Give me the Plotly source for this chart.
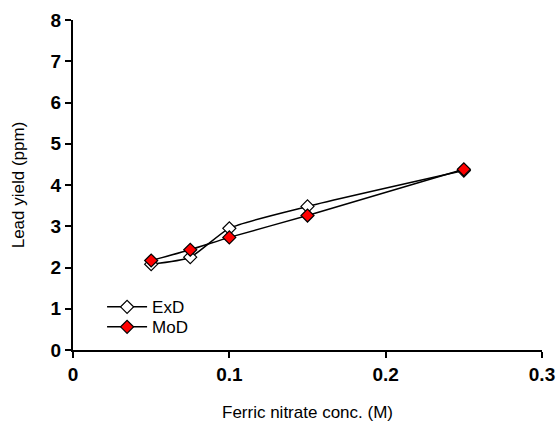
import plotly.graph_objects as go

conc = [0.05, 0.075, 0.1, 0.15, 0.25]
exd = [2.08, 2.25, 2.95, 3.48, 4.35]
mod = [2.17, 2.43, 2.73, 3.26, 4.38]
xticks = [0, 0.1, 0.2, 0.3]
xlabels = ["0", "0.1", "0.2", "0.3"]
yticks = [0, 1, 2, 3, 4, 5, 6, 7, 8]

FONT = "Liberation Sans, Arial, sans-serif"

fig = go.Figure()
fig.add_trace(go.Scatter(x=conc, y=exd, name="ExD", mode="lines+markers", legend="legend",
                         line=dict(color="black", width=1.5, shape="spline", smoothing=0.6),
                         marker=dict(symbol="diamond", size=10, color="white",
                                     line=dict(color="black", width=1.2))))
fig.add_trace(go.Scatter(x=conc, y=mod, name="MoD", mode="lines+markers", legend="legend2",
                         line=dict(color="black", width=1.5, shape="spline", smoothing=0.6),
                         marker=dict(symbol="diamond", size=10, color="red",
                                     line=dict(color="black", width=1.2))))

leg = dict(xanchor="left", yanchor="middle", bgcolor="rgba(0,0,0,0)",
           font=dict(size=17), itemwidth=40)
fig.update_layout(
    width=556, height=432,
    margin=dict(l=73, r=14, t=20, b=82, autoexpand=False),
    paper_bgcolor="white", plot_bgcolor="white",
    font=dict(family=FONT, color="black"),
    showlegend=True,
    legend=dict(x=0.062, y=(349.7 - 307) / 329.7, **leg),
    legend2=dict(x=0.062, y=(349.7 - 327) / 329.7, **leg),
)
fig.update_xaxes(range=[0, 0.3], tickvals=xticks, ticktext=["<b>%s</b>" % t for t in xlabels],
                 automargin=False,
                 showline=True, linecolor="black", linewidth=2, ticks="outside",
                 ticklen=6, tickwidth=2, tickcolor="black", showgrid=False, zeroline=False,
                 tickfont=dict(size=19, family=FONT),
                 title=dict(text="Ferric nitrate conc. (M)", font=dict(size=17), standoff=22))
fig.update_yaxes(range=[0, 8], tickvals=yticks, ticktext=["<b>%d</b>" % t for t in yticks],
                 automargin=False,
                 showline=True, linecolor="black", linewidth=2, ticks="outside",
                 ticklen=6, tickwidth=2, tickcolor="black", showgrid=False, zeroline=False,
                 tickfont=dict(size=19, family=FONT),
                 title=dict(text="Lead yield (ppm)", font=dict(size=17), standoff=22))

fig.write_html("out.html")
